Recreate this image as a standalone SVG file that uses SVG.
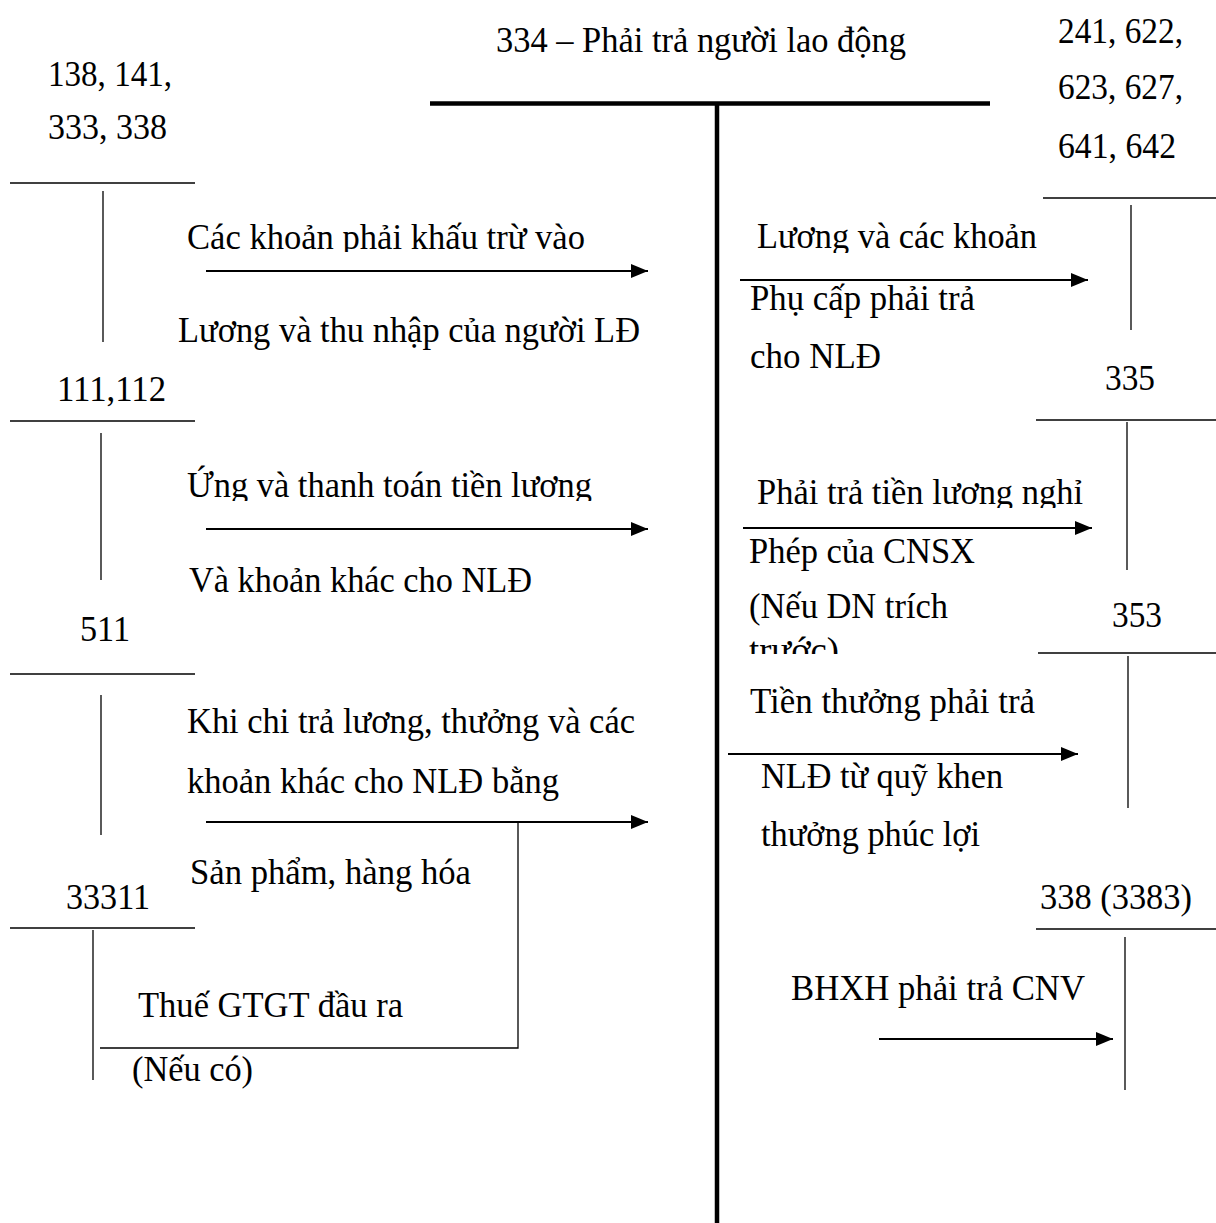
<svg xmlns="http://www.w3.org/2000/svg" width="1216" height="1223" viewBox="0 0 1216 1223">
<style>
text{font-family:"Liberation Serif","Times New Roman",serif;font-size:36px;fill:#000}
.thin{stroke:#000;stroke-width:1.3;fill:none}
.thick{stroke:#000;stroke-width:4.5;fill:none}
.arr{stroke:#000;stroke-width:1.8;fill:none;marker-end:url(#ah)}
</style>
<defs>
<marker id="ah" markerWidth="17" markerHeight="14" refX="17" refY="7" orient="auto" markerUnits="userSpaceOnUse">
<path d="M0,0 L17,7 L0,14 Z" fill="#000"/>
</marker>
<clipPath id="c1"><rect x="0" y="0" width="700" height="252"/></clipPath>
<clipPath id="c2"><rect x="0" y="0" width="700" height="501"/></clipPath>
<clipPath id="c3"><rect x="720" y="0" width="400" height="253"/></clipPath>
<clipPath id="c4"><rect x="720" y="0" width="400" height="508"/></clipPath>
<clipPath id="c5"><rect x="720" y="600" width="400" height="54"/></clipPath>
</defs>
<rect width="1216" height="1223" fill="#fff"/>

<g id="main-334">
<text x="496" y="52" textLength="410" lengthAdjust="spacingAndGlyphs">334 – Phải trả người lao động</text>
<line class="thick" x1="430" y1="103.5" x2="990" y2="103.5"/>
<line class="thick" x1="717" y1="103.5" x2="717" y2="1223"/>
</g>

<g id="acc-138">
<text x="48" y="86" textLength="124" lengthAdjust="spacingAndGlyphs">138, 141,</text>
<text x="48" y="139" textLength="119" lengthAdjust="spacingAndGlyphs">333, 338</text>
<line class="thin" x1="10" y1="183" x2="195" y2="183"/>
<line class="thin" x1="103" y1="191" x2="103" y2="342"/>
</g>

<g id="acc-111">
<text x="57" y="401" textLength="109" lengthAdjust="spacingAndGlyphs">111,112</text>
<line class="thin" x1="10" y1="421" x2="195" y2="421"/>
<line class="thin" x1="101" y1="433" x2="101" y2="580"/>
</g>

<g id="acc-511">
<text x="80" y="641" textLength="50" lengthAdjust="spacingAndGlyphs">511</text>
<line class="thin" x1="10" y1="674" x2="195" y2="674"/>
<line class="thin" x1="101" y1="695" x2="101" y2="835"/>
</g>

<g id="acc-33311">
<text x="66" y="909" textLength="84" lengthAdjust="spacingAndGlyphs">33311</text>
<line class="thin" x1="10" y1="928" x2="195" y2="928"/>
<line class="thin" x1="93" y1="930" x2="93" y2="1080"/>
</g>

<g id="acc-241">
<text x="1058" y="43" textLength="125" lengthAdjust="spacingAndGlyphs">241, 622,</text>
<text x="1058" y="99" textLength="125" lengthAdjust="spacingAndGlyphs">623, 627,</text>
<text x="1058" y="158" textLength="118" lengthAdjust="spacingAndGlyphs">641, 642</text>
<line class="thin" x1="1043" y1="198" x2="1216" y2="198"/>
<line class="thin" x1="1131" y1="205" x2="1131" y2="330"/>
</g>

<g id="acc-335">
<text x="1105" y="390" textLength="50" lengthAdjust="spacingAndGlyphs">335</text>
<line class="thin" x1="1036" y1="420" x2="1216" y2="420"/>
<line class="thin" x1="1127" y1="422" x2="1127" y2="570"/>
</g>

<g id="acc-353">
<text x="1112" y="627" textLength="50" lengthAdjust="spacingAndGlyphs">353</text>
<line class="thin" x1="1038" y1="653" x2="1216" y2="653"/>
<line class="thin" x1="1128" y1="656" x2="1128" y2="808"/>
</g>

<g id="acc-338">
<text x="1040" y="909" textLength="152" lengthAdjust="spacingAndGlyphs">338 (3383)</text>
<line class="thin" x1="1036" y1="929" x2="1216" y2="929"/>
<line class="thin" x1="1125" y1="937" x2="1125" y2="1090"/>
</g>

<g id="connectors">
<line class="arr" x1="206" y1="271" x2="648" y2="271"/>
<text x="187" y="249" clip-path="url(#c1)" textLength="398" lengthAdjust="spacingAndGlyphs">Các khoản phải khấu trừ vào</text>
<text x="178" y="342" textLength="462" lengthAdjust="spacingAndGlyphs">Lương và thu nhập của người LĐ</text>

<line class="arr" x1="206" y1="529" x2="648" y2="529"/>
<text x="187" y="497" clip-path="url(#c2)" textLength="405" lengthAdjust="spacingAndGlyphs">Ứng và thanh toán tiền lương</text>
<text x="189" y="592" textLength="343" lengthAdjust="spacingAndGlyphs">Và khoản khác cho NLĐ</text>

<line class="arr" x1="206" y1="822" x2="648" y2="822"/>
<polyline class="thin" points="100,1048 518,1048 518,822"/>
<text x="187" y="733" textLength="448" lengthAdjust="spacingAndGlyphs">Khi chi trả lương, thưởng và các</text>
<text x="187" y="793" textLength="372" lengthAdjust="spacingAndGlyphs">khoản khác cho NLĐ bằng</text>
<text x="190" y="884" textLength="281" lengthAdjust="spacingAndGlyphs">Sản phẩm, hàng hóa</text>
<text x="138" y="1017" textLength="265" lengthAdjust="spacingAndGlyphs">Thuế GTGT đầu ra</text>
<text x="132" y="1081" textLength="121" lengthAdjust="spacingAndGlyphs">(Nếu có)</text>

<line class="arr" x1="740" y1="280" x2="1088" y2="280"/>
<text x="757" y="248" clip-path="url(#c3)" textLength="280" lengthAdjust="spacingAndGlyphs">Lương và các khoản</text>
<text x="750" y="310" textLength="225" lengthAdjust="spacingAndGlyphs">Phụ cấp phải trả</text>
<text x="750" y="368" textLength="131" lengthAdjust="spacingAndGlyphs">cho NLĐ</text>

<line class="arr" x1="743" y1="528" x2="1092" y2="528"/>
<text x="757" y="504" clip-path="url(#c4)" textLength="326" lengthAdjust="spacingAndGlyphs">Phải trả tiền lương nghỉ</text>
<text x="749" y="563" textLength="226" lengthAdjust="spacingAndGlyphs">Phép của CNSX</text>
<text x="749" y="618" textLength="199" lengthAdjust="spacingAndGlyphs">(Nếu DN trích</text>
<text x="749" y="662" clip-path="url(#c5)" textLength="90" lengthAdjust="spacingAndGlyphs">trước)</text>

<line class="arr" x1="728" y1="754" x2="1078" y2="754"/>
<text x="750" y="713" textLength="285" lengthAdjust="spacingAndGlyphs">Tiền thưởng phải trả</text>
<text x="761" y="788" textLength="242" lengthAdjust="spacingAndGlyphs">NLĐ từ quỹ khen</text>
<text x="761" y="846" textLength="219" lengthAdjust="spacingAndGlyphs">thưởng phúc lợi</text>

<line class="arr" x1="879" y1="1039" x2="1113" y2="1039"/>
<text x="791" y="1000" textLength="294" lengthAdjust="spacingAndGlyphs">BHXH phải trả CNV</text>
</g>
</svg>
